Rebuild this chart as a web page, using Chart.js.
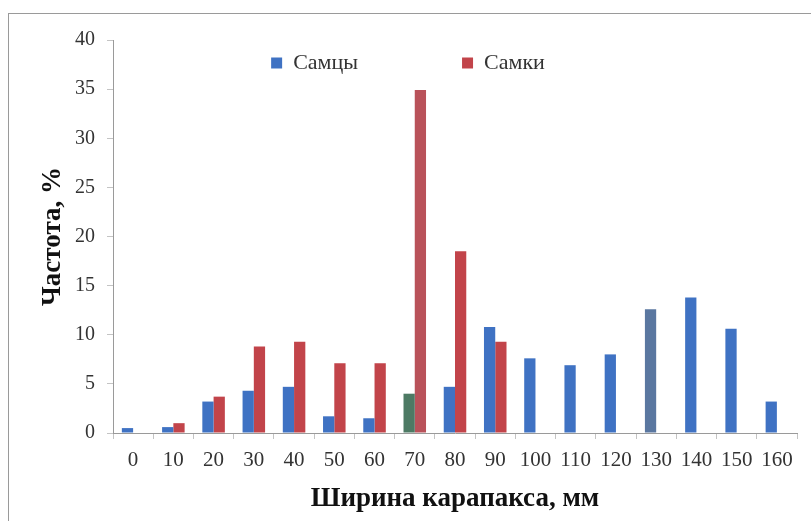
<!DOCTYPE html>
<html>
<head>
<meta charset="utf-8">
<script src="https://cdn.jsdelivr.net/npm/chart.js@4"></script>
<style>
  html, body { margin: 0; padding: 0; background: #fff; }
  #wrap { position: relative; width: 811px; height: 521px; overflow: hidden; }
  #frame { position: absolute; left: 8px; top: 13px; width: 820px; height: 540px;
           border-left: 1px solid #9a9a9a; border-top: 1px solid #9a9a9a; }
  canvas { position: absolute; left: 0; top: 0; }
</style>
</head>
<body>
<div id="wrap">
  <div id="frame"></div>
  <canvas id="chart" width="811" height="521"></canvas>
</div>
<script>
// ── данные ──
const widths = ['0','10','20','30','40','50','60','70','80','90','100','110','120','130','140','150','160'];
const males   = [0.5, 0.6, 3.2, 4.3, 4.7, 1.7, 1.5, 4.0, 4.7, 10.8, 7.6, 6.9, 8.0, 12.6, 13.8, 10.6, 3.2];
const females = [0, 1.0, 3.7, 8.8, 9.3, 7.1, 7.1, 34.9, 18.5, 9.3, 0, 0, 0, 0, 0, 0, 0];
const yTicks  = [0, 5, 10, 15, 20, 25, 30, 35, 40];

// оттенки столбцов как на рисунке
const blue = '#3f72c3', red = '#c2444a';
const maleColors = males.map((v, i) => i === 7 ? '#4d7a64' : (i === 13 ? '#5a77a0' : blue));
const femaleColors = females.map((v, i) => i === 7 ? '#b9525a' : red);

const serif = "'Liberation Serif', 'Times New Roman', serif";

// легенда внутри области графика (не занимает место в раскладке)
const legendInside = {
  id: 'legendInside',
  beforeLayout(chart) {
    const lg = chart.legend;
    if (lg && !lg._inside) {
      const fit = lg.fit.bind(lg);
      lg.fit = function () { fit(); this.height = 0; };
      lg._inside = true;
    }
  },
  afterLayout(chart) {
    const lg = chart.legend;
    lg.top = 52 - lg.options.labels.padding;
    lg.bottom = 90;
    lg.left -= 9;
    lg.right -= 9;
  }
};

new Chart(document.getElementById('chart'), {
  type: 'bar',
  data: {
    labels: widths,
    datasets: [
      { label: 'Самцы', data: males, backgroundColor: maleColors },
      { label: 'Самки', data: females, backgroundColor: femaleColors }
    ]
  },
  options: {
    responsive: false,
    animation: false,
    layout: { padding: { left: 37, right: 14, top: 40, bottom: 6 } },
    datasets: { bar: { categoryPercentage: 0.56, barPercentage: 1.0 } },
    scales: {
      x: {
        grid: { display: true, drawOnChartArea: false, drawTicks: true, tickLength: 6, color: '#c4c4c4', offset: true },
        border: { display: true, color: '#9a9a9a' },
        ticks: { color: '#333', padding: 9, font: { family: serif, size: 21 }, maxRotation: 0, autoSkip: false },
        title: { display: true, text: 'Ширина карапакса, мм', color: '#111', padding: 0,
                 font: { family: serif, size: 27, weight: 'bold' } },
        afterFit: (s) => { s.height = 82; }
      },
      y: {
        min: 0, max: 40,
        grid: { display: true, drawOnChartArea: false, drawTicks: true, tickLength: 6, color: '#c4c4c4' },
        border: { display: true, color: '#9a9a9a' },
        afterBuildTicks: (s) => { s.ticks = yTicks.map(v => ({ value: v })); },
        ticks: { color: '#333', padding: 12, font: { family: serif, size: 20 } },
        title: { display: true, text: 'Частота, %', color: '#111', padding: 0,
                 font: { family: serif, size: 27, weight: 'bold' } },
        afterFit: (s) => { s.width = 76; }
      }
    },
    plugins: {
      legend: {
        display: true,
        position: 'top',
        labels: { boxWidth: 11, boxHeight: 11, padding: 104, color: '#333',
                  font: { family: serif, size: 22 } }
      },
      tooltip: { enabled: false }
    }
  },
  plugins: [legendInside]
});
</script>
</body>
</html>
